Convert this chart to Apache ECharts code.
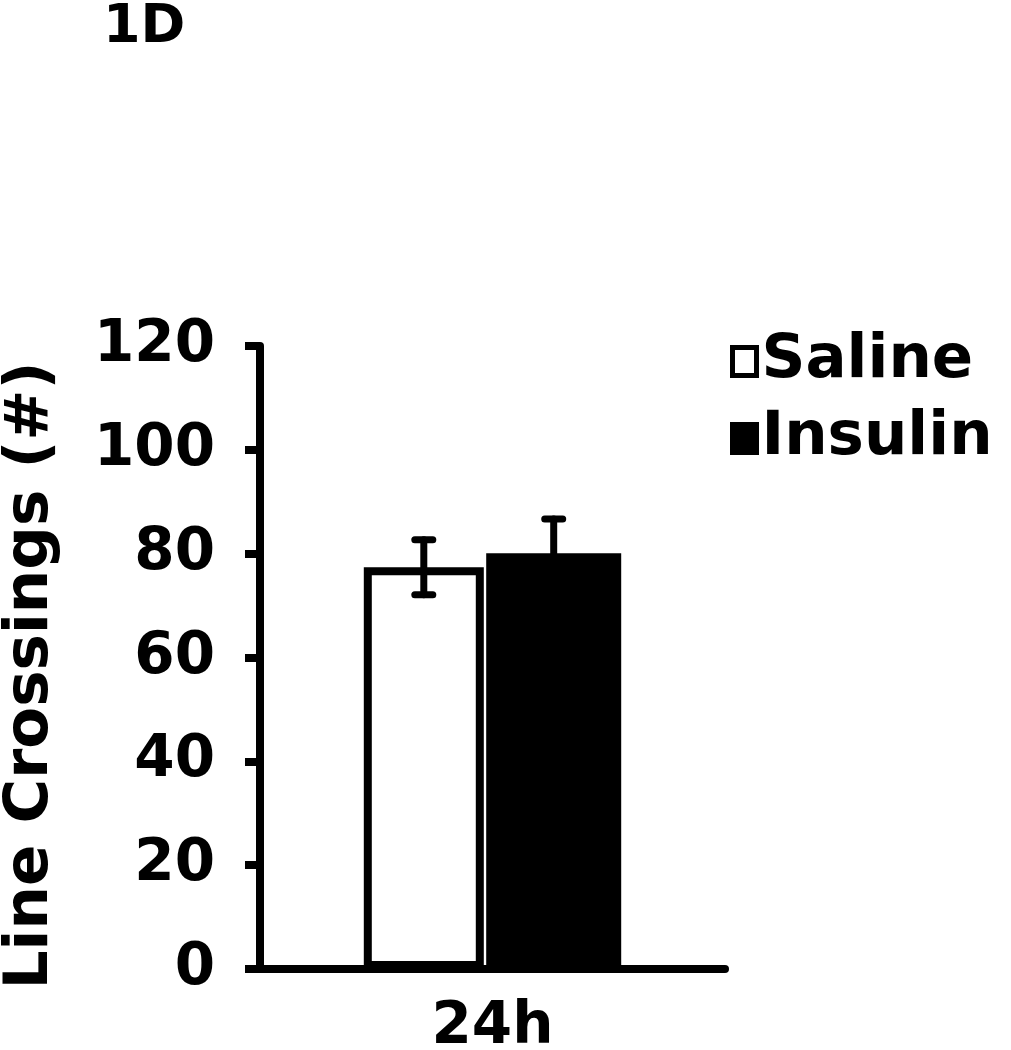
<!DOCTYPE html>
<html>
<head>
<meta charset="utf-8">
<script src="https://cdn.jsdelivr.net/npm/echarts@6/dist/echarts.min.js"></script>
<style>
  html, body { margin: 0; padding: 0; background: #fff; }
  #chart { width: 1011px; height: 1050px; }
</style>
</head>
<body>
<div id="chart"></div>
<script>
// data
var categories = ['24h'];
var groups = ['Saline', 'Insulin'];
var salineMean = [77.4];
var salineErr = [5.3];
var insulinMean = [80.1];
var insulinErr = [6.6];
var yTicks = [0, 20, 40, 60, 80, 100, 120];

var FONT = 'DejaVu Sans';
var W_SAL = 120;
var W_INS = 135;
var GAP = 0.02; // barGap as a fraction of the first bar width

var chart = echarts.init(document.getElementById('chart'));

// centre offsets of each bar from the category centre, same rule ECharts uses
var total = W_SAL + W_INS + W_SAL * GAP;
var offSal = -total / 2 + W_SAL / 2;
var offIns = -total / 2 + W_SAL * (1 + GAP) + W_INS / 2;

function errorSeries(name, means, errs, offset, lowerCap) {
  return {
    name: name + ' err',
    type: 'custom',
    z: 5,
    data: means.map(function (m, i) { return [i, m - errs[i], m + errs[i]]; }),
    renderItem: function (params, api) {
      var lo = api.coord([api.value(0), api.value(1)]);
      var hi = api.coord([api.value(0), api.value(2)]);
      var x = lo[0] + offset;
      var cap = 9;
      var st = { stroke: '#000', lineWidth: 7, lineCap: 'round' };
      var kids = [
        { type: 'line', shape: { x1: x, y1: hi[1], x2: x, y2: lo[1] }, style: st },
        { type: 'line', shape: { x1: x - cap, y1: hi[1], x2: x + cap, y2: hi[1] }, style: st }
      ];
      if (lowerCap) {
        kids.push({ type: 'line', shape: { x1: x - cap, y1: lo[1], x2: x + cap, y2: lo[1] }, style: st });
      }
      return { type: 'group', children: kids };
    }
  };
}

chart.setOption({
  animation: false,
  backgroundColor: '#fff',
  title: {
    text: '1D',
    left: 98,
    top: -4,
    textStyle: { fontFamily: FONT, fontWeight: 'bold', fontSize: 54, color: '#000' }
  },
  legend: {
    data: [
      { name: 'Saline', itemStyle: { color: '#fff', borderColor: '#000', borderWidth: 5 } },
      { name: 'Insulin', itemStyle: { color: '#000', borderColor: '#000', borderWidth: 5 } }
    ],
    orient: 'vertical',
    left: 725,
    top: 326,
    icon: 'rect',
    itemWidth: 24,
    itemHeight: 28,
    itemGap: 16,
    textStyle: { fontFamily: FONT, fontWeight: 'bold', fontSize: 61, lineHeight: 60, color: '#000' }
  },
  grid: { left: 260, right: 286, top: 346, bottom: 81, outerBoundsMode: 'none' },
  xAxis: {
    type: 'category',
    data: categories,
    axisLine: { lineStyle: { color: '#000', width: 8 } },
    axisTick: { show: false },
    axisLabel: {
      fontFamily: FONT, fontWeight: 'bold', fontSize: 58, color: '#000', margin: 30
    }
  },
  yAxis: {
    type: 'value',
    min: 0,
    max: 120,
    interval: 20,
    name: 'Line Crossings (#)',
    nameLocation: 'middle',
    nameGap: 198,
    nameTextStyle: { fontFamily: FONT, fontWeight: 'bold', fontSize: 61, color: '#000', padding: [0, 36, 0, 0] },
    splitLine: { show: false },
    axisLine: { show: true, lineStyle: { color: '#000', width: 8 } },
    axisTick: { show: true, length: 15, lineStyle: { color: '#000', width: 8 } },
    axisLabel: {
      fontFamily: FONT, fontWeight: 'bold', fontSize: 58, color: '#000', margin: 45,
      formatter: function (v) { return yTicks.indexOf(v) >= 0 ? String(v) : ''; }
    }
  },
  series: [
    {
      name: groups[0],
      type: 'bar',
      data: salineMean,
      barWidth: W_SAL,
      barGap: (GAP * 100) + '%',
      itemStyle: { color: '#fff', borderColor: '#000', borderWidth: 8 }
    },
    {
      name: groups[1],
      type: 'bar',
      data: insulinMean,
      barWidth: W_INS,
      barGap: (GAP * 100) + '%',
      itemStyle: { color: '#000', borderColor: '#000', borderWidth: 0 }
    },
    errorSeries(groups[0], salineMean, salineErr, offSal, true),
    errorSeries(groups[1], insulinMean, insulinErr, offIns, false)
  ]
});
</script>
</body>
</html>
